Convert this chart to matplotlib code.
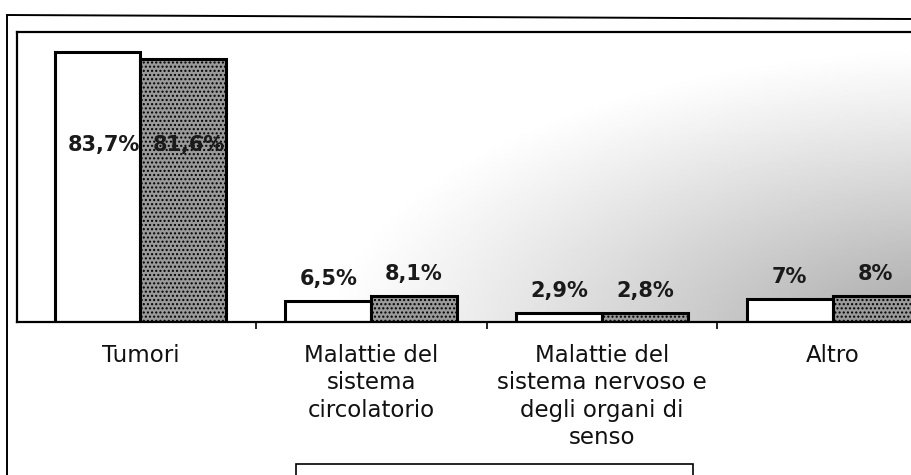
import matplotlib.pyplot as plt
import numpy as np
from matplotlib.lines import Line2D
from matplotlib.patches import Rectangle

# Cause di morte: due serie a confronto
categories = ['Tumori',
              'Malattie del\nsistema\ncircolatorio',
              'Malattie del\nsistema nervoso e\ndegli organi di\nsenso',
              'Altro']
serie_a = [83.7, 6.5, 2.9, 7.0]
serie_b = [81.6, 8.1, 2.8, 8.0]


def pct(v):
    return f'{v:g}'.replace('.', ',') + '%'


plt.rcParams['hatch.color'] = '#3c3c3c'
plt.rcParams['hatch.linewidth'] = 1.0

W, H = 911, 475
fig = plt.figure(figsize=(W / 100, H / 100), dpi=100)
fig.patch.set_facecolor('white')

# plot area in pixels: left 17, top 32, bottom 322, runs past the right edge
left_px, top_px, bot_px, right_px = 17, 32, 322, 948
ax = fig.add_axes([left_px / W, 1 - bot_px / H,
                   (right_px - left_px) / W, (bot_px - top_px) / H])

x = np.arange(len(categories))
w = 0.372
ax.set_xlim(-0.535, 3.5)
ax.set_ylim(0, 90)

# grey haze behind the bars, strongest near the lower right corner
gx, gy = np.meshgrid(np.linspace(left_px, right_px, 400),
                     np.linspace(top_px, bot_px, 150))
r = np.sqrt(((gx - 980) / 660) ** 2 + ((gy - 345) / 300) ** 2)
dark = np.clip(1 - r, 0, 1) ** 1.1
shade = 1 - 0.38 * dark
ax.imshow(shade, cmap='gray', vmin=0, vmax=1, aspect='auto',
          extent=[0, 1, 0, 1], transform=ax.transAxes, zorder=0,
          interpolation='bilinear')

ax.bar(x - w / 2, serie_a, w, color='white', edgecolor='black',
       linewidth=2.2, zorder=2)
ax.bar(x + w / 2, serie_b, w, color='#9a9a9a', edgecolor='black',
       linewidth=2.2, hatch='....', zorder=2)

lab_font = dict(family='DejaVu Sans', fontweight='bold', fontsize=15,
                color='#1a1a1a', zorder=3)
for i in range(len(categories)):
    for xi, v in ((x[i] - w / 2, serie_a[i]), (x[i] + w / 2, serie_b[i])):
        if v > 50:
            ax.annotate(pct(v), (xi, 55), xytext=(6, 0),
                        textcoords='offset pixels', ha='center',
                        va='center', **lab_font)
        else:
            ax.annotate(pct(v), (xi, v), xytext=(0, 22),
                        textcoords='offset pixels', ha='center',
                        va='center', **lab_font)

# tick marks between categories, names centred under each group
ax.set_xticks([0.5, 1.5, 2.5])
ax.set_xticklabels([])
ax.tick_params(axis='x', which='major', direction='out', length=5,
               width=1.2, color='black')
ax.set_xticks(x, minor=True)
ax.set_xticklabels(categories, minor=True, fontsize=16.5, family='DejaVu Sans',
                   linespacing=1.23, color='#111111')
ax.tick_params(axis='x', which='minor', length=0, pad=16)
ax.set_yticks([])

for side in ('left', 'top', 'bottom'):
    ax.spines[side].set_linewidth(1.6)
    ax.spines[side].set_color('black')
ax.spines['right'].set_visible(False)

# outer chart frame
fig.add_artist(Line2D([7 / W, 7 / W], [0, 1 - 15 / H], color='black',
                      lw=1.4))
fig.add_artist(Line2D([7 / W, 1], [1 - 15 / H, 1 - 19 / H], color='black',
                      lw=1.4))

# legend box, cut off by the bottom edge
fig.add_artist(Rectangle((296 / W, -0.05), 397 / W, 0.05 + (475 - 464) / H,
                         transform=fig.transFigure, facecolor='white',
                         edgecolor='black', lw=1.2))

fig.savefig('out.png', dpi=100)
